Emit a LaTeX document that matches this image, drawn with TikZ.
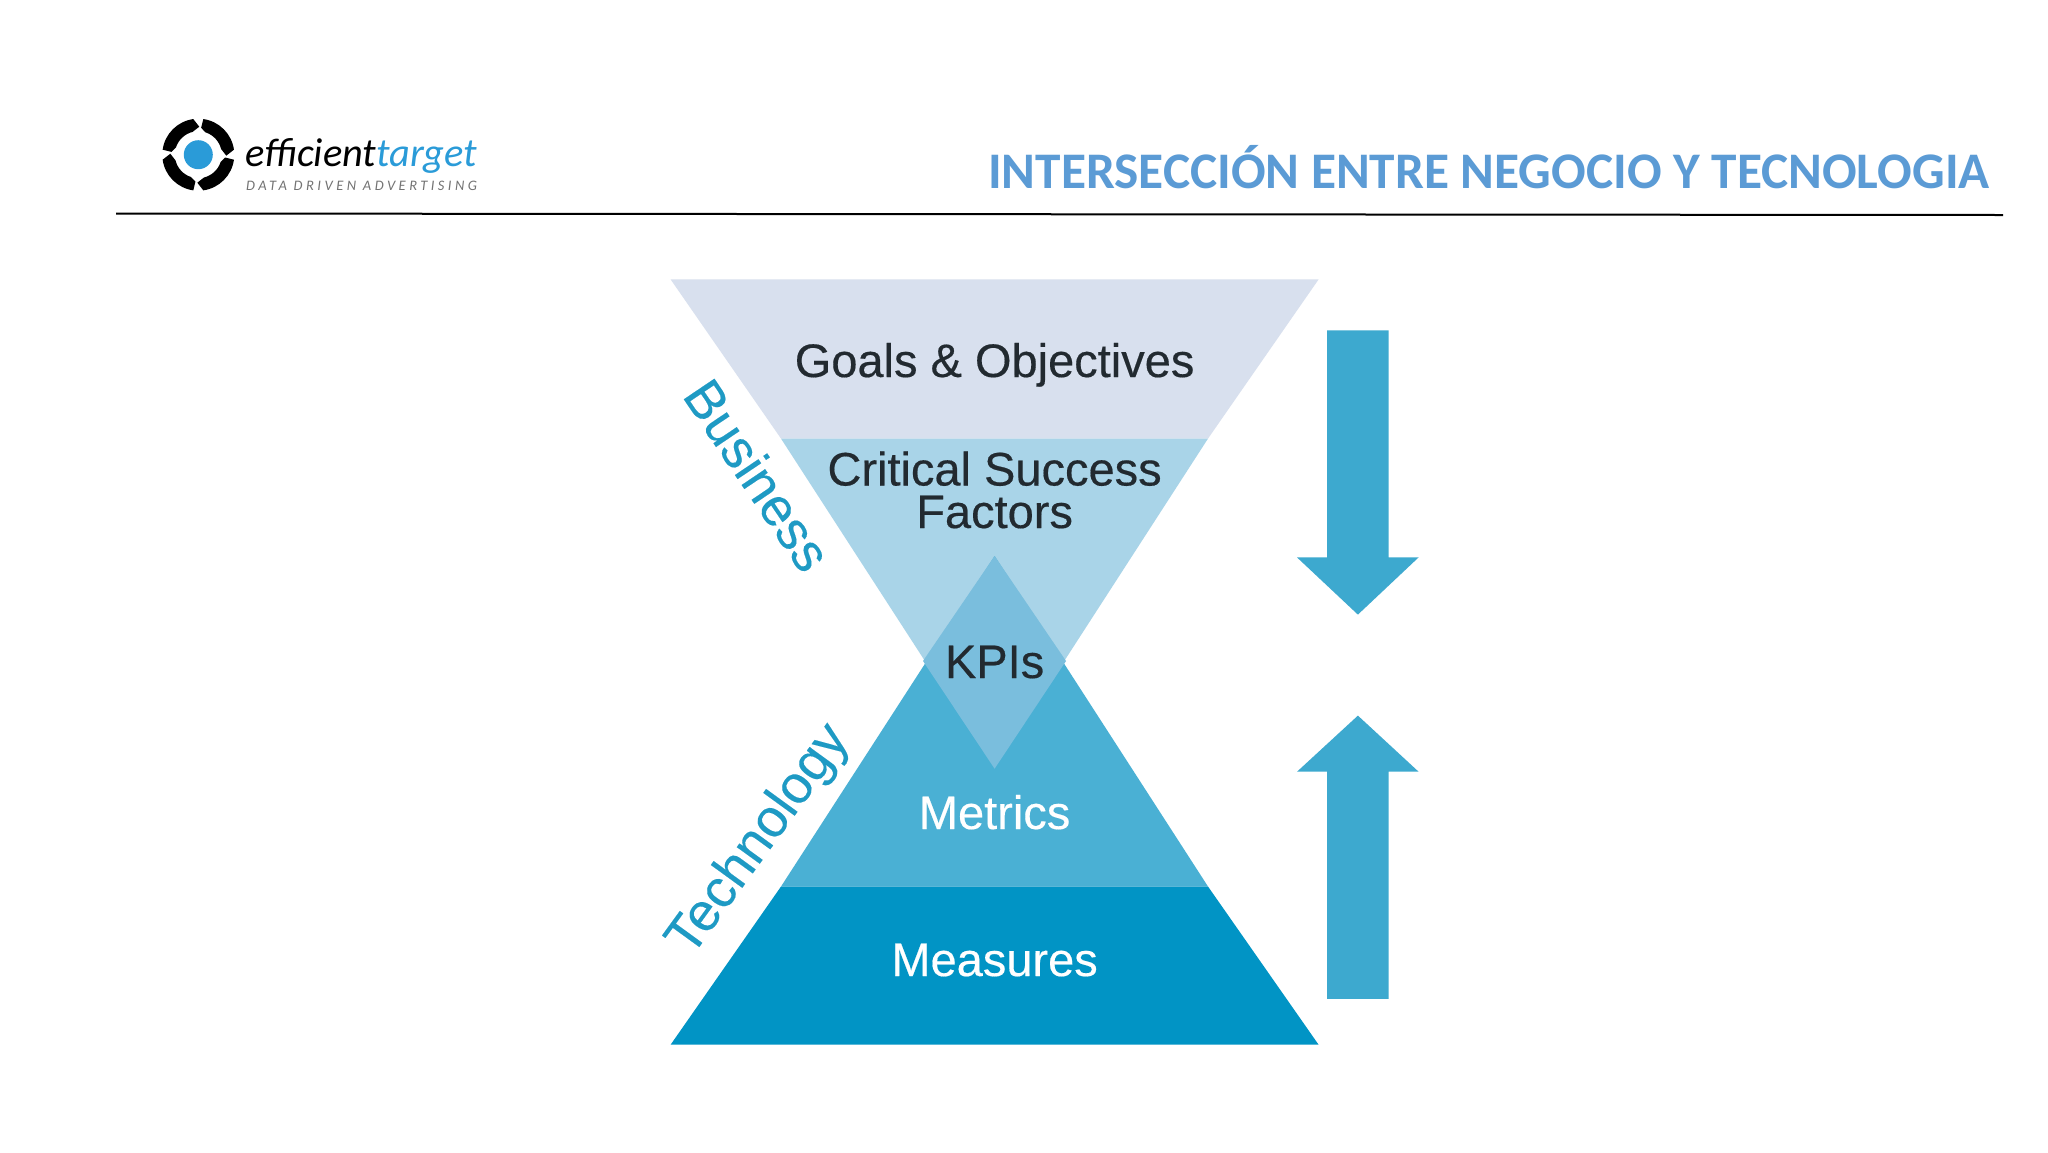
\documentclass[tikz,border=0pt]{standalone}
\usepackage{fontspec}
\setmainfont{Liberation Sans}
\newfontfamily\labfont[FakeBold=0.35]{Liberation Sans}
\newfontfamily\sidefont[FakeBold=0.2]{Liberation Sans}
\newfontfamily\calfont{Carlito}
\newfontfamily\calspaced[LetterSpace=24]{Carlito}
\definecolor{titleblue}{HTML}{5B9BD5}
\definecolor{goalsfill}{HTML}{D8E0EE}
\definecolor{csffill}{HTML}{A9D4E8}
\definecolor{kpifill}{HTML}{7ABEDD}
\definecolor{metricsfill}{HTML}{4AB0D4}
\definecolor{measuresfill}{HTML}{0194C5}
\definecolor{arrowfill}{HTML}{3DA9CF}
\definecolor{sidetext}{HTML}{1E9AC4}
\definecolor{logoblue}{HTML}{2A9BD8}
\definecolor{darktext}{HTML}{222A30}
\tikzset{
  band/.style={draw=none},
  lab/.style={anchor=base,inner sep=0pt,font=\labfont\fontsize{47}{47}\selectfont},
  darklab/.style={lab,text=darktext},
  lightlab/.style={lab,text=white},
  sidelab/.style={inner sep=0pt,text=sidetext,font=\sidefont\fontsize{53.5}{54}\selectfont},
  bigarrow/.style={fill=arrowfill,draw=none}
}
\begin{document}
\begin{tikzpicture}[x=1pt,y=-1pt]
\useasboundingbox (0,0) rectangle (2048,1152);
\fill[white] (0,0) rectangle (2048,1152);
% header
\foreach \k in {0,90,180,270}{
  \begin{scope}[shift={(198.3,154.7)},y=1pt,rotate=\k]
    \fill[black] (82:36) arc[start angle=82,end angle=8,radius=36]
      -- (-2:28) -- (14:23.5) arc[start angle=14,end angle=72,radius=23.5]
      -- (84:27) -- cycle;
  \end{scope}
}
\fill[logoblue] (198.3,154.7) circle[radius=14.5];
\node[anchor=base west,inner sep=0pt] (eff) at (245,166)
  {\calfont\itshape\fontsize{40.4}{42}\selectfont efficient\textcolor{logoblue}{target}};
\node[anchor=base west,inner sep=0pt,text=black!55] (tag) at (246,190)
  {\calspaced\itshape\fontsize{14.5}{16}\selectfont DATA DRIVEN ADVERTISING};
\node[anchor=base east,inner sep=0pt,text=titleblue] (title) at (1990,188.5)
  {\calfont\bfseries\fontsize{51.3}{52}\selectfont INTERSECCIÓN ENTRE NEGOCIO Y TECNOLOGIA};
\coordinate (ruleL) at (116,213.5);
\coordinate (ruleR) at (2003,215);
\draw[black,line width=2pt] (ruleL) -- (ruleR);
% upper triangle
\fill[band,goalsfill] (670.6,279.4) -- (1318.6,279.4) -- (1208,438.6) -- (781,438.6) -- cycle;
\fill[band,csffill] (781,438.6) -- (1208,438.6) -- (994.6,768.7) -- cycle;
% lower triangle
\fill[band,metricsfill] (994.6,556) -- (1208,886.5) -- (781,886.5) -- cycle;
\fill[band,measuresfill] (781,886.5) -- (1208,886.5) -- (1318.6,1044.7) -- (670.6,1044.7) -- cycle;
% overlap
\fill[band,kpifill] (994.6,556) -- (1066,661) -- (994.6,768.7) -- (923,661) -- cycle;
% labels
\node[darklab] (goals) at (994.6,377) {Goals \& Objectives};
\node[darklab] (csfa) at (994.6,485.5) {Critical Success};
\node[darklab] (csfb) at (994.6,528) {Factors};
\node[darklab] (kpis) at (994.6,678) {KPIs};
\node[lightlab] (metrics) at (994.6,829) {Metrics};
\node[lightlab] (measures) at (994.6,976) {Measures};
\node[sidelab,rotate=-56] (business) at (758,475) {Business};
\node[sidelab,rotate=54] (technology) at (759.5,840.5) {Technology};
% arrows
\fill[bigarrow] (1327.2,330.4) -- (1388.5,330.4) -- (1388.5,557.4) -- (1418.6,557.4)
  -- (1357.9,614.6) -- (1297,557.4) -- (1327.2,557.4) -- cycle;
\fill[bigarrow] (1327.2,998.8) -- (1388.5,998.8) -- (1388.5,771.7) -- (1418.6,771.7)
  -- (1357.9,715.6) -- (1297,771.7) -- (1327.2,771.7) -- cycle;
\end{tikzpicture}
\end{document}
